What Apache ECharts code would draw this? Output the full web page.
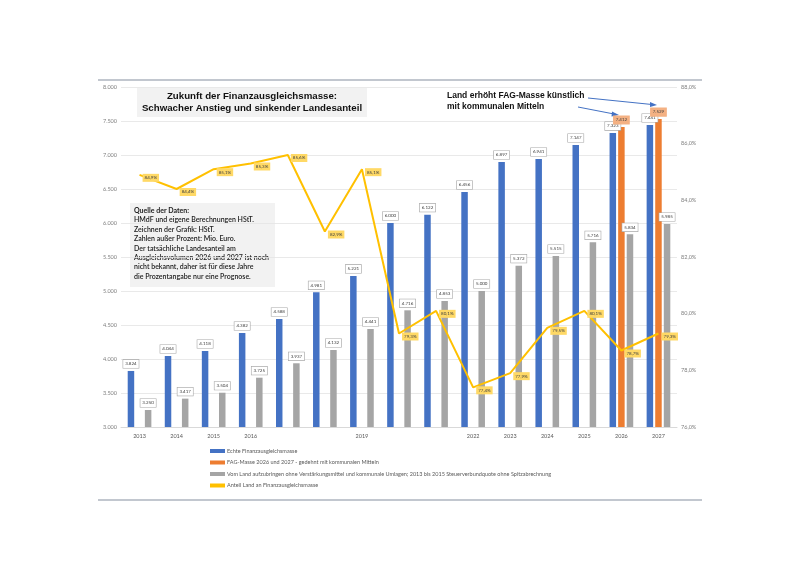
<!DOCTYPE html>
<html>
<head>
<meta charset="utf-8">
<script src="https://cdn.jsdelivr.net/npm/echarts@6/dist/echarts.min.js"></script>
<style>
  html, body { margin: 0; padding: 0; background: #fff; }
  #chart { width: 800px; height: 565px; }
</style>
</head>
<body>
<div id="chart"></div>
<script>
// Jahre und Beschriftung der x-Achse (einige Jahre ohne Beschriftung wie im Original)
const years = ['2013','2014','2015','2016','2017','2018','2019','2020','2021','2022','2023','2024','2025','2026','2027'];
const yearLabels = ['2013','2014','2015','2016','','','2019','','','2022','2023','2024','2025','2026','2027'];

// Mio. Euro
const echteMasse = [3824, 4044, 4118, 4382, 4588, 4981, 5221, 6000, 6122, 6456, 6897, 6941, 7147, 7323, 7441];
const gedehnteMasse = [null, null, null, null, null, null, null, null, null, null, null, null, null, 7412, 7529];
const landAnteilEuro = [3250, 3417, 3504, 3725, 3937, 4132, 4441, 4716, 4853, 5000, 5372, 5515, 5716, 5834, 5985];
// Prozent
const landAnteilProzent = [84.9, 84.4, 85.1, 85.3, 85.6, 82.9, 85.1, 79.3, 80.1, 77.4, 77.9, 79.5, 80.1, 78.7, 79.3];

const seriesNames = [
  'Echte Finanzausgleichsmasse',
  'FAG-Masse 2026 und 2027 - gedehnt mit kommunalen Mitteln',
  'Vom Land aufzubringen ohne Verstärkungsmittel und kommunale Umlagen; 2013 bis 2015 Steuerverbundquote ohne Spitzabrechnung',
  'Anteil Land an Finanzausgleichsmasse'
];

function tausender(v) {
  const s = String(Math.round(v));
  return s.replace(/\B(?=(\d{3})+(?!\d))/g, '.');
}
function prozent(v) {
  return v.toFixed(1).replace('.', ',') + '%';
}

const small = 'Lato, "Open Sans", sans-serif';
const boxLabel = {
  show: true,
  position: 'top',
  distance: 3,
  fontFamily: small,
  fontSize: 4.5,
  color: '#404040',
  backgroundColor: '#fff',
  borderColor: '#a6a6a6',
  borderWidth: 0.6,
  padding: [1.5, 2],
  formatter: p => tausender(p.value)
};

const chart = echarts.init(document.getElementById('chart'));
chart.setOption({
  backgroundColor: '#fff',
  animation: false,
  grid: { left: 121, right: 123, top: 87, bottom: 138 },
  legend: {
    orient: 'vertical',
    left: 205,
    top: 443,
    itemWidth: 15,
    itemHeight: 4,
    itemGap: 5.5,
    icon: 'rect',
    textStyle: { fontFamily: small, fontSize: 5.5, color: '#595959', padding: [0, 0, 0, -3] },
    data: seriesNames.map(n => ({ name: n, icon: 'rect' }))
  },
  xAxis: {
    type: 'category',
    data: years,
    axisLine: { lineStyle: { color: '#d9d9d9' } },
    axisTick: { show: false },
    axisLabel: {
      interval: 0, margin: 6, fontFamily: small, fontSize: 5.5, color: '#595959',
      formatter: (v, i) => yearLabels[i]
    }
  },
  yAxis: [
    {
      type: 'value', min: 3000, max: 8000, interval: 500,
      axisLine: { show: false }, axisTick: { show: false },
      splitLine: { lineStyle: { color: '#e3e3e3', width: 0.8 } },
      axisLabel: { margin: 4, fontFamily: small, fontSize: 5.5, color: '#7f7f7f', formatter: tausender }
    },
    {
      type: 'value', min: 76, max: 88, interval: 2,
      axisLine: { show: false }, axisTick: { show: false },
      splitLine: { show: false },
      axisLabel: { margin: 4, fontFamily: small, fontSize: 5.5, color: '#7f7f7f', formatter: prozent }
    }
  ],
  series: [
    {
      name: seriesNames[0], type: 'bar', data: echteMasse,
      barWidth: 6.5, barGap: '32%',
      itemStyle: { color: '#4472c4' },
      label: boxLabel
    },
    {
      name: seriesNames[1], type: 'bar', data: gedehnteMasse,
      barWidth: 6.5, barGap: '32%',
      itemStyle: { color: '#ed7d31' },
      label: Object.assign({}, boxLabel, {
        backgroundColor: '#f4b183', borderColor: '#f4b183', color: '#404040'
      })
    },
    {
      name: seriesNames[2], type: 'bar', data: landAnteilEuro,
      barWidth: 6.5, barGap: '32%',
      itemStyle: { color: '#a5a5a5' },
      label: boxLabel
    },
    {
      name: seriesNames[3], type: 'line', yAxisIndex: 1, data: landAnteilProzent,
      symbol: 'circle', symbolSize: 0.1, showSymbol: true, z: 5,
      lineStyle: { color: '#ffc000', width: 2 },
      itemStyle: { color: '#ffc000' },
      label: {
        show: true, position: 'right', distance: 3, offset: [0, 3],
        fontFamily: small, fontSize: 4.5, color: '#404040',
        backgroundColor: '#ffd966', padding: [1.5, 2],
        formatter: p => prozent(p.value)
      }
    }
  ],
  graphic: [
    // Rahmen oben und unten
    { type: 'line', shape: { x1: 98, y1: 80, x2: 702, y2: 80 }, style: { stroke: '#aeb4bf', lineWidth: 1.5 } },
    { type: 'line', shape: { x1: 98, y1: 500, x2: 702, y2: 500 }, style: { stroke: '#aeb4bf', lineWidth: 1.5 } },
    // Titel
    { type: 'rect', shape: { x: 137, y: 88, width: 230, height: 29 }, style: { fill: '#f2f2f2' } },
    {
      type: 'text', x: 252, y: 102.5,
      style: {
        text: 'Zukunft der Finanzausgleichsmasse:\nSchwacher Anstieg und sinkender Landesanteil',
        font: 'bold 9.7px "Liberation Sans", Arial, sans-serif',
        fill: '#111', align: 'center', verticalAlign: 'middle', lineHeight: 12
      }
    },
    // Quelle
    { type: 'rect', shape: { x: 130, y: 203, width: 145, height: 84 }, style: { fill: '#f2f2f2' } },
    {
      type: 'text', x: 134, y: 206,
      style: {
        text: '{b|Quelle der Daten:}\n{n|HMdF und eigene Berechnungen HStT.}\n{n|Zeichnen der Grafik: HStT.}\n{n|Zahlen außer Prozent: Mio. Euro.}\n{n|Der tatsächliche Landesanteil am}\n{n|Ausgleichsvolumen 2026 und 2027 ist noch}\n{n|nicht bekannt, daher ist für diese Jahre}\n{n|die Prozentangabe nur eine Prognose.}',
        rich: {
          b: { font: 'bold 7px Lato, sans-serif', fill: '#222', lineHeight: 9.4 },
          n: { font: '600 7px Lato, sans-serif', fill: '#222', lineHeight: 9.4 }
        }
      }
    },
    // Hinweis
    {
      type: 'text', x: 447, y: 90,
      style: {
        text: 'Land erhöht FAG-Masse künstlich\nmit kommunalen Mitteln',
        font: 'bold 8.5px "Liberation Sans", Arial, sans-serif',
        fill: '#111', lineHeight: 11
      }
    },
    { type: 'line', shape: { x1: 588, y1: 98, x2: 652, y2: 104.5 }, style: { stroke: '#4472c4', lineWidth: 1 } },
    { type: 'polygon', shape: { points: [[657, 105], [650, 102], [650, 107]] }, style: { fill: '#4472c4' } },
    { type: 'line', shape: { x1: 578, y1: 107, x2: 614, y2: 114 }, style: { stroke: '#4472c4', lineWidth: 1 } },
    { type: 'polygon', shape: { points: [[619, 115], [612, 111.5], [611.5, 116.5]] }, style: { fill: '#4472c4' } }
  ]
});
</script>
</body>
</html>
